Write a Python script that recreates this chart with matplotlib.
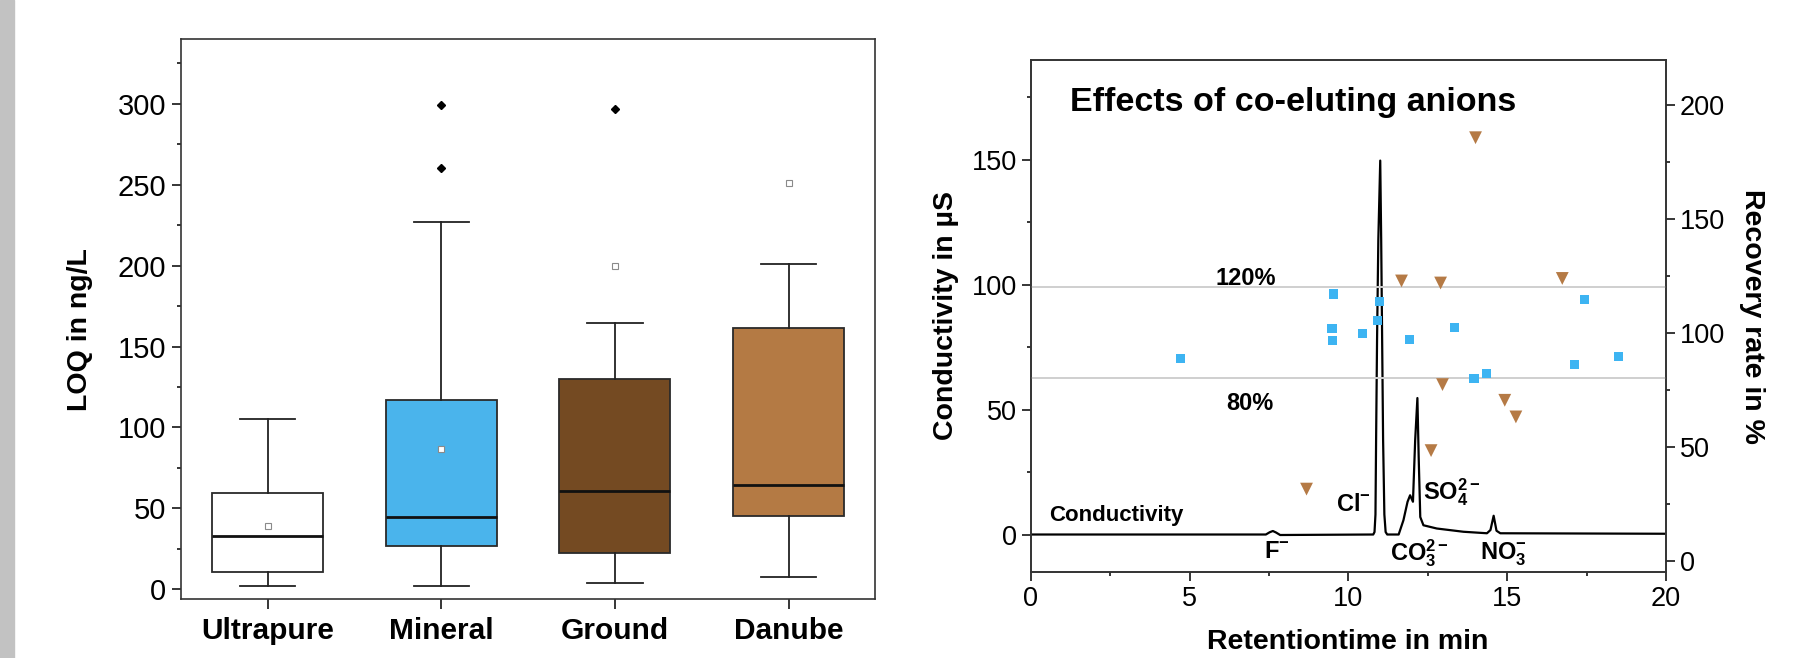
import matplotlib
matplotlib.use("Agg")
import matplotlib.pyplot as plt
from matplotlib.ticker import MultipleLocator
from matplotlib.patches import Rectangle

plt.rcParams['font.family'] = ['Liberation Sans', 'DejaVu Sans']
plt.rcParams['mathtext.fontset'] = 'custom'
plt.rcParams['mathtext.rm'] = 'Liberation Sans'
plt.rcParams['mathtext.bf'] = 'Liberation Sans:bold'
plt.rcParams['mathtext.it'] = 'Liberation Sans:italic'

# left panel: LOQ box statistics per water matrix
matrices = ['Ultrapure', 'Mineral', 'Ground', 'Danube']
whisker_low = [2, 2, 4, 7.5]
q1 = [10.5, 26.7, 22.6, 45.5]
median = [33, 44.5, 60.5, 64.6]
q3 = [59.6, 116.7, 130.2, 161.6]
whisker_high = [105, 227, 164.7, 200.7]
mean = [39, 86.6, 199.7, 251]
outliers = [[], [299, 260], [297], []]
box_colors = ['white', '#4AB4EC', '#744A22', '#B47A44']

# right panel: chromatogram (retention time in min, conductivity in uS)
ret_time = [0, 7.40, 7.52, 7.62, 7.72, 7.85, 10.78, 10.82, 10.85, 10.87, 10.90,
            10.94, 11.00, 11.03, 11.06, 11.09, 11.13, 11.17, 11.22, 11.58, 11.73,
            11.86, 11.94, 12.03, 12.10, 12.17, 12.21, 12.26, 12.36, 12.78, 13.62,
            14.36, 14.47, 14.57, 14.66, 14.78, 20]
conductivity = [0, 0, 0.9, 1.4, 0.8, -0.2, 0, 1, 8, 38, 78,
                118, 149.6, 118, 78, 38, 8, 1, 0, 0, 5.7,
                13.1, 15.7, 13.1, 37.8, 54.6, 31.1, 7.0, 3.7, 2.4, 1.1,
                0.5, 1.8, 7.5, 1.5, 0.5, 0.3]

# recovery rates (right axis)
sq_time = [4.72, 9.52, 9.48, 9.49, 10.43, 10.97, 10.91, 11.92, 13.34, 13.95,
           14.34, 17.11, 17.44, 18.49]
sq_recovery = [88.8, 117.1, 102.0, 96.6, 99.7, 113.7, 105.5, 97.0, 102.2, 79.8,
               82.1, 86.1, 114.5, 89.7]
tri_time = [11.67, 12.90, 16.73, 12.96, 14.92, 15.27, 12.60, 8.68, 14.0]
tri_recovery = [122.8, 121.9, 123.9, 77.3, 70.4, 63.1, 48.3, 31.4, 185.7]
limits = [80, 120]

fig = plt.figure(figsize=(18.03, 6.58), dpi=100)
fig.patches.append(Rectangle((0, 0), 0.0078, 1, transform=fig.transFigure,
                             color='#C2C2C2', zorder=0))

tick_fs = 19.5
label_fs = 20.5

# ---- left: box plot
ax1 = fig.add_axes([0.1003, 0.0897, 0.3852, 0.851])
stats = []
for i in range(len(matrices)):
    stats.append(dict(label=matrices[i], whislo=whisker_low[i], q1=q1[i],
                      med=median[i], q3=q3[i], whishi=whisker_high[i],
                      mean=mean[i], fliers=outliers[i]))
bp = ax1.bxp(stats, positions=[1, 2, 3, 4], widths=0.64, capwidths=0.32,
             showmeans=True, patch_artist=True,
             boxprops=dict(edgecolor='#2a2a2a', linewidth=1.3),
             medianprops=dict(color='#111111', linewidth=2),
             whiskerprops=dict(color='#222222', linewidth=1.3),
             capprops=dict(color='#222222', linewidth=1.3),
             flierprops=dict(marker='D', markerfacecolor='black',
                             markeredgecolor='black', markersize=4.5),
             meanprops=dict(marker='s', markerfacecolor='white',
                            markeredgecolor='#8a8a8a', markersize=4,
                            markeredgewidth=0.8))
for patch, c in zip(bp['boxes'], box_colors):
    patch.set_facecolor(c)

ax1.set_xlim(0.5, 4.5)
ax1.set_ylim(-6, 340)
ax1.yaxis.set_major_locator(MultipleLocator(50))
ax1.yaxis.set_minor_locator(MultipleLocator(25))
ax1.tick_params(axis='y', which='major', direction='out', length=6.5, width=1.1,
                labelsize=21, pad=4)
ax1.tick_params(axis='y', which='minor', direction='out', length=3, width=1.1)
ax1.tick_params(axis='x', direction='out', length=7, width=1.1, pad=6)
for lab in ax1.get_xticklabels():
    lab.set_fontsize(21.5)
    lab.set_fontweight('bold')
for sp in ax1.spines.values():
    sp.set_linewidth(1.2)
    sp.set_color('#333333')
fig.text(0.0446, 0.4994, 'LOQ in ng/L', rotation=90, ha='center', va='center',
         fontsize=label_fs, fontweight='bold')

# ---- right: chromatogram with recovery rates
ax2 = fig.add_axes([0.5717, 0.1307, 0.3524, 0.7787])
ax2.plot(ret_time, conductivity, color='black', linewidth=1.6)
ax2.set_xlim(0, 20)
ax2.set_ylim(-15, 190)
ax2.xaxis.set_major_locator(MultipleLocator(5))
ax2.xaxis.set_minor_locator(MultipleLocator(2.5))
ax2.yaxis.set_major_locator(MultipleLocator(50))
ax2.yaxis.set_minor_locator(MultipleLocator(25))
ax2.tick_params(which='major', direction='out', length=6.5, width=1.1,
                labelsize=tick_fs)
ax2.tick_params(which='minor', direction='out', length=3, width=1.1)

ax3 = ax2.twinx()
ax3.set_ylim(-5, 220)
ax3.yaxis.set_major_locator(MultipleLocator(50))
ax3.yaxis.set_minor_locator(MultipleLocator(25))
ax3.tick_params(which='major', direction='out', length=6.5, width=1.1,
                labelsize=tick_fs)
ax3.tick_params(which='minor', direction='out', length=3, width=1.1)
for lim in limits:
    ax3.axhline(lim, color='#cfcfcf', linewidth=1.4, zorder=1)
ax3.scatter(sq_time, sq_recovery, marker='s', s=44, color='#3DB4F2',
            edgecolors='none', zorder=3)
ax3.scatter(tri_time, tri_recovery, marker='v', s=85, color='#B57A45',
            edgecolors='none', zorder=3)
for sp in list(ax2.spines.values()) + list(ax3.spines.values()):
    sp.set_linewidth(1.2)
    sp.set_color('#333333')

ax3.text(6.76, 124.1, '120%', ha='center', va='center', fontsize=17,
         fontweight='bold')
ax3.text(6.9, 69.1, '80%', ha='center', va='center', fontsize=17,
         fontweight='bold')
ax2.text(1.24, 169.5, 'Effects of co-eluting anions', ha='left', va='baseline',
         fontsize=24.5, fontweight='bold')
ax2.text(2.68, 7.7, 'Conductivity', ha='center', va='center', fontsize=16,
         fontweight='bold')
ax2.text(7.75, -7.0, r'$\mathbf{F^{-}}$', ha='center', va='center', fontsize=17)
ax2.text(10.15, 11.7, r'$\mathbf{Cl^{-}}$', ha='center', va='center', fontsize=17)
ax2.text(12.22, -7.5, r'$\mathbf{CO_3^{2-}}$', ha='center', va='center', fontsize=17)
ax2.text(13.25, 17.0, r'$\mathbf{SO_4^{2-}}$', ha='center', va='center', fontsize=17)
ax2.text(14.87, -8.0, r'$\mathbf{NO_3^{-}}$', ha='center', va='center', fontsize=17)

fig.text(0.5247, 0.5204, 'Conductivity in µS', rotation=90, ha='center',
         va='center', fontsize=label_fs, fontweight='bold')
fig.text(0.9719, 0.5185, 'Recovery rate in %', rotation=270, ha='center',
         va='center', fontsize=label_fs, fontweight='bold')
fig.text(0.7474, 0.004, 'Retentiontime in min', ha='center', va='bottom',
         fontsize=label_fs, fontweight='bold')

fig.savefig('out.png', dpi=100)
